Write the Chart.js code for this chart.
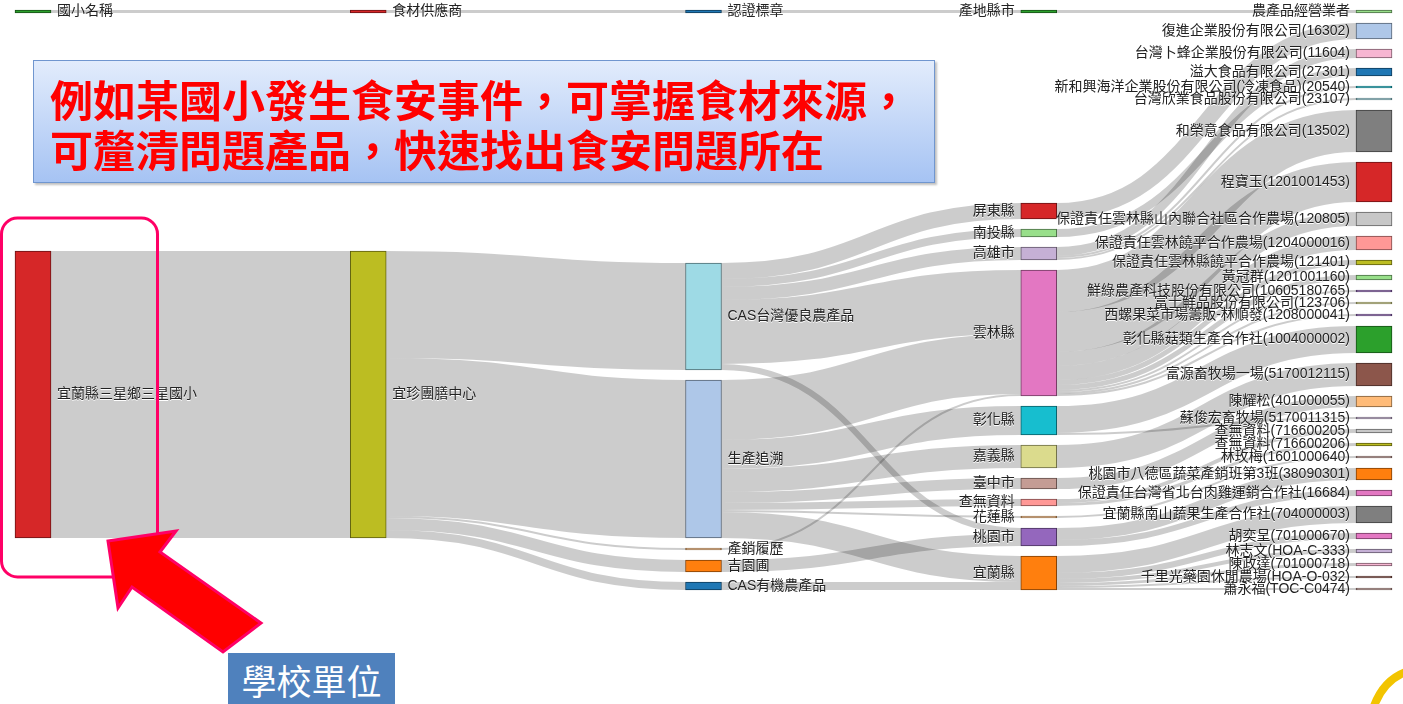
<!DOCTYPE html>
<html>
<head>
<meta charset="utf-8">
<script src="https://cdn.jsdelivr.net/npm/chart.js@4.4.1/dist/chart.umd.min.js"></script>
<style>
  html, body { margin: 0; padding: 0; background: #fff; }
  #wrap { position: relative; width: 1403px; height: 704px; overflow: hidden; font-family: "Noto Sans CJK TC", sans-serif; }
  #wrap canvas { position: absolute; left: 0; top: 0; }
  #deco { position: absolute; left: 0; top: 0; pointer-events: none; }
  .note {
    position: absolute; left: 33px; top: 60px; width: 902px; height: 123px; box-sizing: border-box;
    border: 1px solid #7096cf; background: linear-gradient(#e2ecfc, #a6c3f3);
    box-shadow: 2px 2px 2px rgba(0, 0, 0, 0.25);
  }
  .note p {
    margin: 0; position: absolute; left: 16px; top: 12px; color: #ff0000; font-weight: bold;
    font-size: 43px; line-height: 50px; white-space: nowrap;
  }
  .tag {
    position: absolute; left: 228px; top: 653px; width: 167px; height: 60px; background: #4f81bd;
    color: #fff; font-size: 35px; line-height: 54px; text-align: center;
  }
</style>
</head>
<body>
<div id="wrap">
  <canvas id="sankey" width="1403" height="704"></canvas>
  <svg id="deco" width="1403" height="704">
    <rect x="1.5" y="218" width="156" height="359" rx="16" ry="16" fill="none" stroke="#ff0066" stroke-width="3"/>
    <polygon points="108,541 176,531 160,552 261,623 223,652 132,587 118,608"
             fill="#ff0000" stroke="#ff0066" stroke-width="3" stroke-linejoin="miter"/>
    <path d="M1374,706 Q1384,680 1406,672" fill="none" stroke="#f2c400" stroke-width="8"/>
  </svg>
  <div class="note"><p>例如某國小發生食安事件，可掌握食材來源，<br>可釐清問題產品，快速找出食安問題所在</p></div>
  <div class="tag">學校單位</div>
</div>
<script>
// nodes, column by column (order inside a column = order of the picture)
const schoolNodes = ["國小名稱", "宜蘭縣三星鄉三星國小"];
const supplierNodes = ["食材供應商", "宜珍團膳中心"];
const labelNodes = ["認證標章", "CAS台灣優良農產品", "生產追溯", "產銷履歷", "吉園圃", "CAS有機農產品"];
const countyNodes = ["產地縣市", "屏東縣", "南投縣", "高雄市", "雲林縣", "彰化縣", "嘉義縣", "臺中市",
  "查無資料", "花蓮縣", "桃園市", "宜蘭縣"];
const farmNodes = ["農產品經營業者", "復進企業股份有限公司(16302)", "台灣卜蜂企業股份有限公司(11604)",
  "溢大食品有限公司(27301)", "新和興海洋企業股份有限公司(冷凍食品)(20540)", "台灣欣業食品股份有限公司(23107)",
  "和榮意食品有限公司(13502)", "程寶玉(1201001453)", "保證責任雲林縣山內聯合社區合作農場(120805)",
  "保證責任雲林饒平合作農場(1204000016)", "保證責任雲林縣饒平合作農場(121401)", "黃冠群(1201001160)",
  "鮮綠農產科技股份有限公司(10605180765)", "富士鮮品股份有限公司(123706)", "西螺果菜市場籌販-林順發(1208000041)",
  "彰化縣菇類生產合作社(1004000002)", "富源畜牧場一場(5170012115)", "陳耀松(401000055)",
  "蘇俊宏畜牧場(5170011315)", "查無資料(716600205)", "查無資料(716600206)", "林玫梅(1601000640)",
  "桃園市八德區蔬菜產銷班第3班(38090301)", "保證責任台灣省北台肉雞運銷合作社(16684)",
  "宜蘭縣南山蔬果生產合作社(704000003)", "胡奕呈(701000670)", "林志文(HOA-C-333)", "陳政達(701000718)",
  "千里光藥園休閒農場(HOA-O-032)", "蕭永福(TOC-C0474)"];

// flows [from, to, value]
const flowsToSupplier = [
  ["國小名稱", "食材供應商", 3],
  ["宜蘭縣三星鄉三星國小", "宜珍團膳中心", 287]
];
const flowsToLabel = [
  ["食材供應商", "認證標章", 3],
  ["宜珍團膳中心", "CAS台灣優良農產品", 107],
  ["宜珍團膳中心", "生產追溯", 158],
  ["宜珍團膳中心", "產銷履歷", 2],
  ["宜珍團膳中心", "吉園圃", 12],
  ["宜珍團膳中心", "CAS有機農產品", 8]
];
const flowsToCounty = [
  ["認證標章", "產地縣市", 3],
  ["CAS台灣優良農產品", "屏東縣", 16],
  ["CAS台灣優良農產品", "南投縣", 8],
  ["CAS台灣優良農產品", "高雄市", 13],
  ["CAS台灣優良農產品", "雲林縣", 64],
  ["CAS台灣優良農產品", "桃園市", 6],
  ["生產追溯", "雲林縣", 60],
  ["生產追溯", "彰化縣", 29],
  ["生產追溯", "嘉義縣", 23],
  ["生產追溯", "臺中市", 11],
  ["生產追溯", "查無資料", 7],
  ["生產追溯", "花蓮縣", 2],
  ["生產追溯", "宜蘭縣", 26],
  ["產銷履歷", "雲林縣", 2],
  ["吉園圃", "桃園市", 12],
  ["CAS有機農產品", "宜蘭縣", 8]
];
const flowsToFarm = [
  ["產地縣市", "農產品經營業者", 3],
  ["屏東縣", "復進企業股份有限公司(16302)", 16],
  ["南投縣", "溢大食品有限公司(27301)", 8],
  ["高雄市", "台灣卜蜂企業股份有限公司(11604)", 9],
  ["高雄市", "新和興海洋企業股份有限公司(冷凍食品)(20540)", 2],
  ["高雄市", "台灣欣業食品股份有限公司(23107)", 2],
  ["雲林縣", "和榮意食品有限公司(13502)", 42],
  ["雲林縣", "程寶玉(1201001453)", 40],
  ["雲林縣", "保證責任雲林縣山內聯合社區合作農場(120805)", 14],
  ["雲林縣", "保證責任雲林饒平合作農場(1204000016)", 14],
  ["雲林縣", "保證責任雲林縣饒平合作農場(121401)", 5],
  ["雲林縣", "黃冠群(1201001160)", 5],
  ["雲林縣", "鮮綠農產科技股份有限公司(10605180765)", 2],
  ["雲林縣", "富士鮮品股份有限公司(123706)", 2],
  ["雲林縣", "西螺果菜市場籌販-林順發(1208000041)", 2],
  ["彰化縣", "彰化縣菇類生產合作社(1004000002)", 27],
  ["彰化縣", "蘇俊宏畜牧場(5170011315)", 2],
  ["嘉義縣", "富源畜牧場一場(5170012115)", 23],
  ["臺中市", "陳耀松(401000055)", 11],
  ["查無資料", "查無資料(716600205)", 4],
  ["查無資料", "查無資料(716600206)", 3],
  ["花蓮縣", "林玫梅(1601000640)", 2],
  ["桃園市", "桃園市八德區蔬菜產銷班第3班(38090301)", 12],
  ["桃園市", "保證責任台灣省北台肉雞運銷合作社(16684)", 6],
  ["宜蘭縣", "宜蘭縣南山蔬果生產合作社(704000003)", 17],
  ["宜蘭縣", "胡奕呈(701000670)", 6],
  ["宜蘭縣", "林志文(HOA-C-333)", 4],
  ["宜蘭縣", "陳政達(701000718)", 3],
  ["宜蘭縣", "千里光藥園休閒農場(HOA-O-032)", 2],
  ["宜蘭縣", "蕭永福(TOC-C0474)", 2]
];

// node fill colours (d3 category20)
const nodeColor = {
  "國小名稱": "#2ca02c", "宜蘭縣三星鄉三星國小": "#d62728",
  "食材供應商": "#d62728", "宜珍團膳中心": "#bcbd22",
  "認證標章": "#1f77b4", "CAS台灣優良農產品": "#9edae5", "生產追溯": "#aec7e8", "產銷履歷": "#ffbb78",
  "吉園圃": "#ff7f0e", "CAS有機農產品": "#1f77b4",
  "產地縣市": "#2ca02c", "屏東縣": "#d62728", "南投縣": "#98df8a", "高雄市": "#c5b0d5", "雲林縣": "#e377c2",
  "彰化縣": "#17becf", "嘉義縣": "#dbdb8d", "臺中市": "#c49c94", "查無資料": "#ff9896", "花蓮縣": "#ffbb78",
  "桃園市": "#9467bd", "宜蘭縣": "#ff7f0e"
};
const farmColors = ["#98df8a", "#aec7e8", "#f7b6d2", "#1f77b4", "#17becf", "#9edae5", "#7f7f7f", "#d62728",
  "#c7c7c7", "#ff9896", "#bcbd22", "#98df8a", "#9467bd", "#dbdb8d", "#9467bd", "#2ca02c", "#8c564b", "#ffbb78",
  "#c5b0d5", "#c7c7c7", "#bcbd22", "#c49c94", "#ff7f0e", "#e377c2", "#7f7f7f", "#e377c2", "#c5b0d5", "#f7b6d2",
  "#8c564b", "#c49c94"];
farmNodes.forEach((n, i) => { nodeColor[n] = farmColors[i]; });

const NODE_WIDTH = 36;
const NODE_PAD = 10;

// ---- sankey layout (in value units) ----
const columns = [schoolNodes, supplierNodes, labelNodes, countyNodes, farmNodes];
const nodes = [];
const byName = {};
columns.forEach((names, c) => names.forEach(name => {
  const n = { name, col: c, sourceLinks: [], targetLinks: [] };
  nodes.push(n);
  byName[name] = n;
}));
const links = [...flowsToSupplier, ...flowsToLabel, ...flowsToCounty, ...flowsToFarm].map(([s, t, v]) => {
  const l = { source: byName[s], target: byName[t], value: v };
  l.source.sourceLinks.push(l);
  l.target.targetLinks.push(l);
  return l;
});
const sum = arr => arr.reduce((a, l) => a + l.value, 0);
nodes.forEach(n => { n.value = Math.max(sum(n.sourceLinks), sum(n.targetLinks)); });
const cols = columns.map(names => names.map(name => byName[name]));
const H = Math.max(...cols.map(c => c.reduce((a, n) => a + n.value, 0) + (c.length - 1) * NODE_PAD));

// header node on top, the rest packed to the bottom; a lone node follows its main target
for (let c = cols.length - 1; c >= 0; c--) {
  const [head, ...rest] = cols[c];
  head.y0 = 0;
  head.y1 = head.value;
  let bottom = H;
  if (rest.length === 1 && rest[0].sourceLinks.length) {
    const main = rest[0].sourceLinks.reduce((a, b) => (b.value > a.value ? b : a)).target;
    bottom = main.y1;
  }
  for (let i = rest.length - 1; i >= 0; i--) {
    rest[i].y1 = bottom;
    rest[i].y0 = bottom - rest[i].value;
    bottom = rest[i].y0 - NODE_PAD;
  }
}
nodes.forEach(n => {
  let sy = 0, ty = 0;
  n.sourceLinks.sort((a, b) => a.target.y0 - b.target.y0).forEach(l => { l.sy = sy; sy += l.value; });
  n.targetLinks.sort((a, b) => a.source.y0 - b.source.y0).forEach(l => { l.ty = ty; ty += l.value; });
});

function darker(hex) {
  const k = 0.49;
  const r = parseInt(hex.slice(1, 3), 16), g = parseInt(hex.slice(3, 5), 16), b = parseInt(hex.slice(5, 7), 16);
  return `rgb(${Math.round(r * k)},${Math.round(g * k)},${Math.round(b * k)})`;
}

const linkPlugin = {
  id: "sankeyLinks",
  beforeDatasetsDraw(chart) {
    const { ctx, scales: { x, y } } = chart;
    const half = NODE_WIDTH / 2;
    ctx.save();
    ctx.strokeStyle = "rgba(0,0,0,0.2)";
    links.forEach(l => {
      const x0 = x.getPixelForValue(l.source.col) + half;
      const x1 = x.getPixelForValue(l.target.col) - half;
      const y0 = y.getPixelForValue(l.source.y0 + l.sy + l.value / 2);
      const y1 = y.getPixelForValue(l.target.y0 + l.ty + l.value / 2);
      const xm = (x0 + x1) / 2;
      ctx.lineWidth = Math.max(1, Math.abs(y.getPixelForValue(l.value) - y.getPixelForValue(0)));
      ctx.beginPath();
      ctx.moveTo(x0, y0);
      ctx.bezierCurveTo(xm, y0, xm, y1, x1, y1);
      ctx.stroke();
    });
    ctx.restore();
  }
};

const labelPlugin = {
  id: "sankeyLabels",
  afterDatasetsDraw(chart) {
    const { ctx, scales: { x, y } } = chart;
    const half = NODE_WIDTH / 2;
    const mid = (x.getPixelForValue(0) + x.getPixelForValue(cols.length - 1)) / 2;
    ctx.save();
    ctx.font = '14px "Liberation Sans", "Noto Sans CJK TC", sans-serif';
    ctx.textBaseline = "middle";
    nodes.forEach(n => {
      const xc = x.getPixelForValue(n.col);
      const yc = y.getPixelForValue((n.y0 + n.y1) / 2);
      let tx;
      if (xc - half < mid) { ctx.textAlign = "left"; tx = xc + half + 6; }
      else { ctx.textAlign = "right"; tx = xc - half - 6; }
      ctx.fillStyle = "#fff";
      ctx.fillText(n.name, tx, yc + 1);
      ctx.fillStyle = "#222";
      ctx.fillText(n.name, tx, yc);
    });
    ctx.restore();
  }
};

new Chart(document.getElementById("sankey"), {
  type: "bar",
  data: {
    datasets: [{
      data: nodes.map(n => ({ x: n.col, y: [n.y0, n.y1] })),
      backgroundColor: nodes.map(n => nodeColor[n.name]),
      borderColor: nodes.map(n => darker(nodeColor[n.name])),
      borderWidth: 1,
      borderSkipped: false,
      barThickness: NODE_WIDTH,
      clip: false
    }]
  },
  options: {
    responsive: false,
    animation: false,
    devicePixelRatio: 1,
    layout: { padding: { left: 33, right: 29, top: 10, bottom: 114 } },
    scales: {
      x: { type: "linear", min: 0, max: cols.length - 1, offset: false, display: false },
      y: { type: "linear", min: 0, max: H, reverse: true, display: false }
    },
    plugins: {
      legend: { display: false },
      tooltip: { enabled: false }
    }
  },
  plugins: [linkPlugin, labelPlugin]
});
</script>
</body>
</html>
